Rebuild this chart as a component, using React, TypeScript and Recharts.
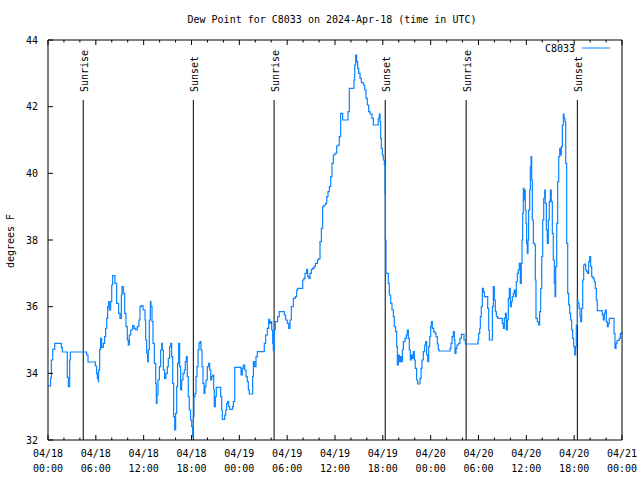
import React from 'react';
import { ComposedChart, Line, XAxis, YAxis, ReferenceLine } from 'recharts';

// ─── Data (hours since 2024-04-18 00:00 UTC, dew point °F) ───────────────────

const hours = [
  0, 0.33, 0.42, 0.59, 0.84, 1.5, 1.67, 1.8, 2.3, 2.42, 2.55, 2.72, 2.8, 4.72, 4.85, 5.02,
  5.77, 5.94, 6.1, 6.19, 6.31, 6.35, 6.48, 6.6, 6.73, 6.94, 7.1, 7.23, 7.36, 7.48, 7.61, 7.69,
  7.86, 7.99, 8.11, 8.32, 8.4, 8.61, 8.86, 9.03, 9.2, 9.28, 9.45, 9.62, 9.78, 9.95, 10.07, 10.2,
  10.37, 10.62, 10.79, 11.0, 11.2, 11.41, 11.54, 11.7, 11.92,
  12.04, 12.17, 12.25, 12.38, 12.5, 12.58, 12.71, 12.84, 12.92, 13.05, 13.17, 13.34, 13.51, 13.59,
  13.67, 13.8, 13.97, 14.13, 14.26, 14.34, 14.47, 14.63, 14.8, 14.97, 15.09, 15.26, 15.39, 15.51,
  15.64, 15.76, 15.89, 16.01, 16.14, 16.26, 16.39, 16.51, 16.64, 16.76, 16.93, 17.1, 17.22, 17.35,
  17.47, 17.6, 17.72, 17.89, 18.02, 18.14, 18.23, 18.31, 18.44, 18.56, 18.69, 18.82, 18.94, 19.07,
  19.19, 19.32, 19.44, 19.57, 19.69, 19.82, 19.98, 20.15, 20.28, 20.41, 20.53, 20.66, 20.78, 20.86,
  20.99, 21.11, 21.57, 21.66, 21.79, 21.87, 22.08, 22.16, 22.29, 22.41, 22.54, 22.66, 22.79, 23.04,
  23.16, 23.25, 23.42, 24.08, 24.21, 24.37, 24.5, 24.67, 24.84, 25.0, 25.13, 25.25, 25.59, 25.67,
  25.76, 25.92, 26.09, 26.26, 27.01, 27.13, 27.3, 27.51, 27.68, 27.8, 27.93, 28.06, 28.18, 28.26,
  28.39, 28.51, 28.68, 28.81, 29.01, 29.51, 29.64, 29.81, 30.02, 30.19, 30.36, 30.52, 30.77, 31.02,
  31.19, 31.32, 31.82, 31.95, 32.11, 32.24, 32.45, 32.57, 32.74, 32.87, 33.03, 33.2, 33.37, 33.54,
  33.79, 33.95, 34.12, 34.29, 34.45, 34.62, 34.83, 34.96, 35.12, 35.29, 35.46, 35.62, 35.79, 36.0,
  36.21, 36.42, 36.54, 36.71, 36.84, 36.96, 37.55, 37.63, 37.8, 38.3, 38.38, 38.47, 38.59, 38.72,
  38.84, 38.97, 39.14, 39.3, 39.55, 39.72, 39.89, 40.05, 40.22, 40.39, 40.64, 40.81, 41.31, 41.43,
  41.56, 41.65, 41.73, 41.81, 41.94, 42.06, 42.19, 42.27, 42.31, 42.4, 42.56, 42.69, 42.81, 42.99,
  43.15, 43.32, 43.44, 43.61, 43.74, 43.82, 43.94, 44.07, 44.2, 44.32, 44.45, 44.57, 44.78, 44.95,
  45.07, 45.2, 45.32, 45.45, 45.57, 45.7, 45.82, 45.95, 46.07, 46.24, 46.37, 46.54, 46.66, 46.79,
  46.91, 47.08, 47.25, 47.38, 47.5, 47.63, 47.75, 47.88, 48.0, 48.09, 48.21, 48.38, 48.54, 48.67,
  48.84, 48.96, 49.05, 50.34, 50.43, 50.55, 50.68, 50.85, 50.97, 51.05, 51.18, 51.3, 51.51, 51.68,
  51.85, 52.1, 52.18, 52.35, 53.85, 53.94, 54.02, 54.15, 54.23, 54.35, 54.48, 54.61, 54.73, 54.86,
  55.07, 55.15, 55.28, 55.36, 55.65, 55.74, 55.86, 55.99, 56.11, 56.24, 56.41, 56.87, 56.99, 57.12,
  57.24, 57.37, 57.49, 57.62, 57.74, 57.87, 57.99, 58.12, 58.24, 58.37, 58.49, 58.62, 58.74, 58.87,
  58.99, 59.12, 59.24, 59.37, 59.46, 59.54, 59.62, 59.71, 59.79, 59.87, 59.96, 60.04, 60.12, 60.21,
  60.29, 60.42, 60.5, 60.59, 60.67, 60.75, 60.88, 61.05, 61.13, 61.21, 61.38, 61.55, 61.67, 61.8,
  61.93, 62.05, 62.18, 62.3, 62.38, 62.51, 62.63, 62.76, 62.88, 63.01, 63.13, 63.26, 63.38, 63.51,
  63.6, 63.68, 63.81, 63.93, 64.06, 64.19, 64.27, 64.39, 64.52, 64.64, 64.73, 64.85, 64.94, 65.06,
  65.19, 65.31, 65.44, 65.56, 65.69, 65.81, 65.94, 66.07, 66.19, 66.27, 66.4, 66.48, 66.61, 66.73,
  66.82, 66.94, 67.07, 67.19, 67.32, 67.44, 67.57, 67.69, 67.82, 67.95, 68.07, 68.2, 68.36, 68.53,
  68.65, 68.78, 68.9, 69.41, 69.53, 69.66, 69.78, 69.91, 70.03, 70.16, 70.28, 70.41, 70.91, 71.0,
  71.12, 71.25, 71.37, 71.54, 71.66, 71.79, 72.0,
];

const dewF = [
  33.62, 33.86, 34.4, 34.72, 34.9, 34.9, 34.78, 34.64, 34.64, 33.88, 33.6, 34.4, 34.64, 34.64, 34.55, 34.34,
  34.34, 34.22, 34.0, 33.85, 33.75, 34.1, 34.72, 35.05, 34.78, 34.9, 35.1, 35.35, 35.65, 36.0, 36.15, 35.9,
  36.15, 36.65, 36.93, 36.93, 36.7, 36.1, 35.8, 35.65, 36.35, 36.6, 36.4, 35.8, 35.4, 35.0, 34.85, 35.15,
  35.3, 35.43, 35.35, 35.3, 35.4, 35.6, 36.0, 36.03, 35.9,
  35.9, 35.6, 35.0, 34.6, 34.35, 34.7, 35.6, 36.15, 36.0, 35.55, 34.9, 34.3, 33.7, 33.1,
  33.35, 33.8, 34.2, 34.7, 34.9, 34.7, 34.1, 33.85, 34.0, 34.2, 34.45, 34.8, 34.9, 34.5,
  33.7, 32.7, 32.3, 32.8, 33.6, 34.3, 34.9, 34.2, 33.5, 33.8, 34.0, 34.1, 34.35, 34.5,
  33.9, 33.3, 32.9, 32.6, 32.4, 32.1, 32.7, 33.3, 33.4, 33.9, 34.2, 34.7, 34.9, 34.95,
  34.7, 34.2, 33.7, 33.4, 33.6, 33.8, 34.2, 34.3, 34.1, 33.8, 33.9, 33.95, 33.5, 33.0,
  33.3, 33.58, 33.58, 33.3, 32.9, 32.62, 32.62, 32.75, 32.9, 33.1, 33.15, 33.0, 32.92, 32.92,
  33.0, 33.15, 34.18, 34.18, 33.95, 34.15, 34.25, 34.1, 33.9, 33.75, 33.5, 33.38, 33.38, 33.9,
  34.35, 34.2, 34.5, 34.65, 34.65, 34.9, 35.15, 35.35, 35.62, 35.5, 35.55, 35.3, 34.9, 34.68,
  35.3, 35.55, 35.55, 35.7, 35.85, 35.85, 35.75, 35.6, 35.5, 35.35, 35.6, 36.0, 36.25, 36.3,
  36.5, 36.55, 36.55, 36.8, 36.85, 37.0, 37.12, 36.9, 36.85, 37.0, 37.12, 37.15, 37.2, 37.3,
  37.4, 37.44, 37.95, 38.35, 39.0, 39.05, 39.1, 39.3, 39.45, 39.6, 39.9, 40.3, 40.55, 40.6,
  40.82, 40.85, 41.1, 41.8, 41.8, 41.6, 41.6, 41.85, 42.55, 42.55, 42.8, 43.25, 43.55, 43.35,
  43.15, 43.0, 42.85, 42.72, 42.65, 42.5, 42.25, 42.05, 41.85, 41.78, 41.65, 41.45, 41.45, 41.65,
  41.78, 41.55, 41.05, 40.75, 40.55, 40.4, 40.25, 39.4, 38.0, 37.0, 37.0, 36.7, 36.35, 36.1,
  35.9, 35.7, 35.4, 35.25, 34.8, 34.25, 34.55, 34.35, 34.5, 34.35, 34.7, 34.95, 35.05, 35.15,
  35.3, 35.05, 34.7, 34.4, 34.55, 34.45, 34.65, 34.4, 34.15, 33.8, 33.68, 33.68, 33.85, 34.15,
  34.4, 34.65, 34.85, 34.95, 34.55, 34.35, 34.8, 35.1, 35.4, 35.55, 35.35, 35.25, 35.2, 35.1,
  34.88, 34.72, 34.67, 34.67, 34.75, 34.9, 35.1, 35.25, 35.0, 34.6, 34.75, 34.85, 34.9, 35.05,
  35.17, 35.17, 35.0, 34.88, 34.88, 35.0, 35.2, 35.35, 35.7, 36.0, 36.55, 36.45, 36.3, 36.3,
  36.3, 35.95, 35.3, 35.0, 35.0, 36.0, 36.6, 36.2, 35.85, 35.7, 35.65, 35.65, 35.5, 35.35,
  35.65, 35.8, 35.3, 35.6, 36.25, 36.55, 36.0, 36.15, 36.3, 36.4, 36.5, 36.3, 36.75, 37.0,
  37.1, 37.3, 36.7, 37.3, 38.0, 38.8, 39.55, 39.2, 39.5, 38.9, 38.5, 37.9, 37.6, 38.0,
  38.9, 39.5, 40.2, 40.5, 39.8, 38.6, 37.9, 37.85, 36.8, 35.65, 35.55, 35.45, 35.85, 36.55,
  37.5, 38.6, 39.25, 39.5, 39.1, 38.3, 37.9, 38.6, 39.15, 39.5, 39.15, 38.2, 37.4, 36.7,
  36.3, 37.2, 38.5, 39.75, 40.5, 40.75, 40.55, 40.8, 41.45, 41.78, 41.65, 41.55, 40.3, 37.9,
  36.4, 36.05, 35.8, 35.6, 35.3, 35.05, 34.8, 34.55, 34.8, 35.45, 36.2, 36.1, 35.95, 35.7,
  35.55, 35.95, 36.8, 37.25, 37.28, 37.1, 37.05, 37.0, 37.35, 37.5, 37.2, 36.9, 36.85, 36.75,
  36.55, 36.2, 35.88, 35.88, 35.75, 35.6, 35.8, 35.9, 35.55, 35.4, 35.5, 35.65, 35.65, 35.2,
  34.75, 34.9, 34.98, 35.0, 35.05, 35.2, 35.22,
];

const xTicks = [0, 2, 4, 6, 8, 10, 12, 14, 16, 18, 20, 22, 24, 26, 28, 30, 32, 34, 36, 38, 40, 42, 44, 46, 48, 50, 52, 54, 56, 58, 60, 62, 64, 66, 68, 70, 72];
const yTicks = [32, 34, 36, 38, 40, 42, 44];

const sunriseHours = [4.42, 28.36, 52.45];
const sunsetHours = [18.23, 42.3, 66.4];

const data = hours.map((h, i) => ({ h, v: dewF[i] }));

const FONT = '"DejaVu Sans Mono", "Liberation Mono", monospace';
const BLUE = '#0a84ff';

// ─── Tick renderers (gnuplot style: ticks point inward) ──────────────────────

function BottomTick({ x, y, payload }: any) {
  const h = payload.value as number;
  const major = h % 6 === 0;
  const day = 18 + Math.floor(h / 24);
  const hh = String(h % 24).padStart(2, '0');
  return (
    <g>
      <line x1={x} y1={y} x2={x} y2={y - (major ? 5 : 2.5)} stroke="#000" />
      {major && (
        <text x={x} y={y} textAnchor="middle" fontFamily={FONT} fontSize={10} fill="#000">
          <tspan x={x} dy={17}>{`04/${day}`}</tspan>
          <tspan x={x} dy={15}>{`${hh}:00`}</tspan>
        </text>
      )}
    </g>
  );
}

function TopTick({ x, y, payload }: any) {
  const major = (payload.value as number) % 6 === 0;
  return <line x1={x} y1={y} x2={x} y2={y + (major ? 5 : 2.5)} stroke="#000" />;
}

function LeftTick({ x, y, payload }: any) {
  return (
    <g>
      <line x1={x} y1={y} x2={x + 5} y2={y} stroke="#000" />
      <text x={x - 10} y={y} textAnchor="end" dominantBaseline="central" fontFamily={FONT} fontSize={10} fill="#000">
        {payload.value}
      </text>
    </g>
  );
}

function RightTick({ x, y }: any) {
  return <line x1={x} y1={y} x2={x - 5} y2={y} stroke="#000" />;
}

function sunLabel(text: string) {
  return (props: any) => {
    const vb = props.viewBox || {};
    const tx = vb.x + 1;
    const ty = vb.y - 8;
    return (
      <text
        x={tx} y={ty}
        transform={`rotate(-90 ${tx} ${ty})`}
        textAnchor="start" dominantBaseline="central"
        fontFamily={FONT} fontSize={10} fill="#000"
      >
        {text}
      </text>
    );
  };
}

// ─── Chart ───────────────────────────────────────────────────────────────────

export default function App() {
  return (
    <div style={{ position: 'absolute', left: 0, top: 0, width: 640, height: 480, background: '#fff' }}>
      <ComposedChart
        width={640} height={480} data={data}
        margin={{ top: 30, right: 8, bottom: 0, left: 0 }}
      >
        <XAxis
          dataKey="h" type="number" domain={[0, 72]} ticks={xTicks} interval={0}
          height={40} tickSize={0} tickMargin={0} tickLine={false}
          axisLine={{ stroke: '#000' }} tick={<BottomTick />}
        />
        <XAxis
          xAxisId="top" orientation="top" dataKey="h" type="number" domain={[0, 72]}
          ticks={xTicks} interval={0} height={10} tickSize={0} tickMargin={0} tickLine={false}
          axisLine={{ stroke: '#000' }} tick={<TopTick />}
        />
        <YAxis
          type="number" domain={[32, 44]} ticks={yTicks} interval={0}
          width={48} tickSize={0} tickMargin={0} tickLine={false}
          axisLine={{ stroke: '#000' }} tick={<LeftTick />}
        />
        <YAxis
          yAxisId="right" orientation="right" type="number" domain={[32, 44]} ticks={yTicks}
          interval={0} width={10} tickSize={0} tickMargin={0} tickLine={false}
          axisLine={{ stroke: '#000' }} tick={<RightTick />}
        />
        {sunriseHours.map(h => (
          <ReferenceLine
            key={`sr${h}`}
            segment={[{ x: h, y: 32 }, { x: h, y: 42.2 }]}
            stroke="#000" strokeWidth={1}
            label={sunLabel('Sunrise')}
          />
        ))}
        {sunsetHours.map(h => (
          <ReferenceLine
            key={`ss${h}`}
            segment={[{ x: h, y: 32 }, { x: h, y: 42.2 }]}
            stroke="#000" strokeWidth={1}
            label={sunLabel('Sunset')}
          />
        ))}
        <Line
          type="stepAfter" dataKey="v" stroke={BLUE} strokeWidth={1.2}
          dot={false} isAnimationActive={false}
        />
      </ComposedChart>
      <svg width={640} height={480} style={{ position: 'absolute', left: 0, top: 0, pointerEvents: 'none' }}>
        <text x={332} y={19} textAnchor="middle" dominantBaseline="central" fontFamily={FONT} fontSize={10} fill="#000">
          Dew Point for C8033 on 2024-Apr-18 (time in UTC)
        </text>
        <text
          x={10} y={241} transform="rotate(-90 10 241)"
          textAnchor="middle" dominantBaseline="central" fontFamily={FONT} fontSize={10} fill="#000"
        >
          degrees F
        </text>
        <text x={575} y={48} textAnchor="end" dominantBaseline="central" fontFamily={FONT} fontSize={10} fill="#000">
          C8033
        </text>
        <line x1={582} y1={48} x2={610} y2={48} stroke={BLUE} strokeWidth={1} />
      </svg>
    </div>
  );
}
